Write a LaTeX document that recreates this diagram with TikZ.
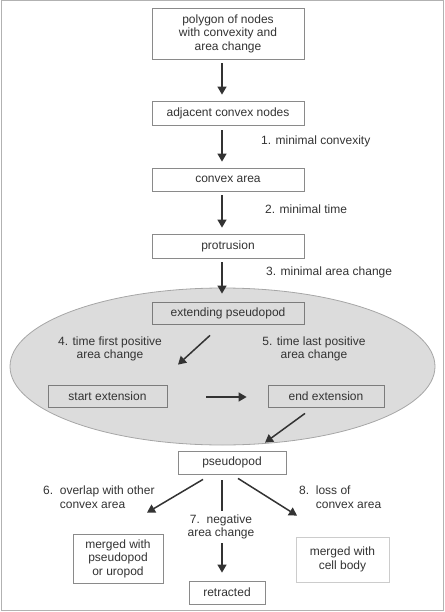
\documentclass[tikz,border=0pt]{standalone}
\usepackage{fontspec}
\setmainfont{Liberation Sans}
\usetikzlibrary{arrows.meta}
\definecolor{txt}{HTML}{333333}
\definecolor{arrc}{HTML}{333333}
\definecolor{bord}{HTML}{8A8A8A}
\definecolor{ellfill}{HTML}{DCDCDC}
\begin{document}
\begin{tikzpicture}[x=1pt,y=-1pt,
  every node/.style={font=\fontsize{12}{13.6}\selectfont, text=txt},
  box/.style={draw=bord, line width=0.8pt, fill=white, align=center, inner sep=0pt},
  gbox/.style={box, fill=ellfill, draw=bord!90!black},
  arr/.style={draw=arrc, line width=1.5pt, -{Triangle[width=9pt,length=8pt]}},
  lbl/.style={align=center, inner sep=0pt}
]
\useasboundingbox (0,0) rectangle (444,612);
\draw[draw=gray!60, line width=1pt] (1,1) rectangle (443,610.5);
% ellipse
\path[fill=ellfill, draw=gray!70, line width=0.8pt] (222.5,366.5) ellipse [x radius=212.5, y radius=78.5];

% boxes
\node[box, minimum width=152pt, minimum height=51pt] (b1) at (228,33.5) {polygon of nodes\\with convexity and\\area change};
\node[box, minimum width=152pt, minimum height=24pt] (b2) at (228,113) {adjacent convex nodes};
\node[box, minimum width=152pt, minimum height=23pt] (b3) at (228,179.5) {convex area};
\node[box, minimum width=152pt, minimum height=24pt] (b4) at (228,246) {protrusion};
\node[gbox, minimum width=152pt, minimum height=22pt] (b5) at (228,313) {extending pseudopod};
\node[gbox, minimum width=119pt, minimum height=22pt] (st) at (107.5,396) {start extension};
\node[gbox, minimum width=116pt, minimum height=22pt] (en) at (326,396) {end extension};
\node[box, minimum width=108pt, minimum height=23pt] (ps) at (232,462.5) {pseudopod};
\node[box, minimum width=90pt, minimum height=49pt] (m1) at (118,558.5) {merged with\\pseudopod\\or uropod};
\node[box, minimum width=76pt, minimum height=23pt] (re) at (227,592.5) {retracted};
\node[box, draw=gray!40, minimum width=93pt, minimum height=45pt] (m2) at (342.5,559.5) {merged with\\cell body};

% labels
\node[lbl, anchor=west] (l1) at (261,141) {1. minimal convexity};
\node[lbl, anchor=west] (l2) at (265,209) {2. minimal time};
\node[lbl, anchor=west] (l3) at (266,272) {3. minimal area change};
\node[lbl] (l4) at (110,349) {4. time first positive\\area change};
\node[lbl] (l5) at (314,349) {5. time last positive\\area change};
\node[lbl, anchor=west, align=left] (l6) at (43,497.5) {6.\ \ overlap with other\\\phantom{6.\ \ }convex area};
\node[lbl, anchor=west, align=left] (l8) at (299,497.5) {8.\ \ loss of\\\phantom{8.\ \ }convex area};

% connectors
\draw[arr] ([xshift=-6pt,yshift=-4pt]b1.south) -- ([xshift=-6pt,yshift=6pt]b2.north);
\draw[arr] ([xshift=-6pt,yshift=-5pt]b2.south) -- ([xshift=-6pt,yshift=6pt]b3.north);
\draw[arr] ([xshift=-6pt,yshift=-4pt]b3.south) -- ([xshift=-6pt,yshift=6pt]b4.north);
\draw[arr] ([xshift=-6pt,yshift=-4pt]b4.south) -- ([xshift=-6pt,yshift=8pt]b5.north);
\draw[arr] ([xshift=-18pt,yshift=-11pt]b5.south) -- ([xshift=70.5pt,yshift=20pt]st.north);
\draw[arr] ([xshift=39pt,yshift=-1pt]st.east) -- ([xshift=-21pt,yshift=-1pt]en.west);
\draw[arr] ([xshift=-21pt,yshift=-6pt]en.south) -- ([xshift=33pt,yshift=8pt]ps.north);
\draw[arr] ([xshift=-29pt,yshift=-5pt]ps.south) -- ([xshift=29pt,yshift=21pt]m1.north);
\draw[arr] ([xshift=-10pt,yshift=-6pt]ps.south) -- ([xshift=-5pt,yshift=8pt]re.north);
\draw[arr] ([xshift=6pt,yshift=-4pt]ps.south) -- ([xshift=-45.5pt,yshift=21pt]m2.north);
\node[lbl, fill=white, inner ysep=4pt] (l7) at (221,527) {7.\ \ negative\\area change};
\end{tikzpicture}
\end{document}
